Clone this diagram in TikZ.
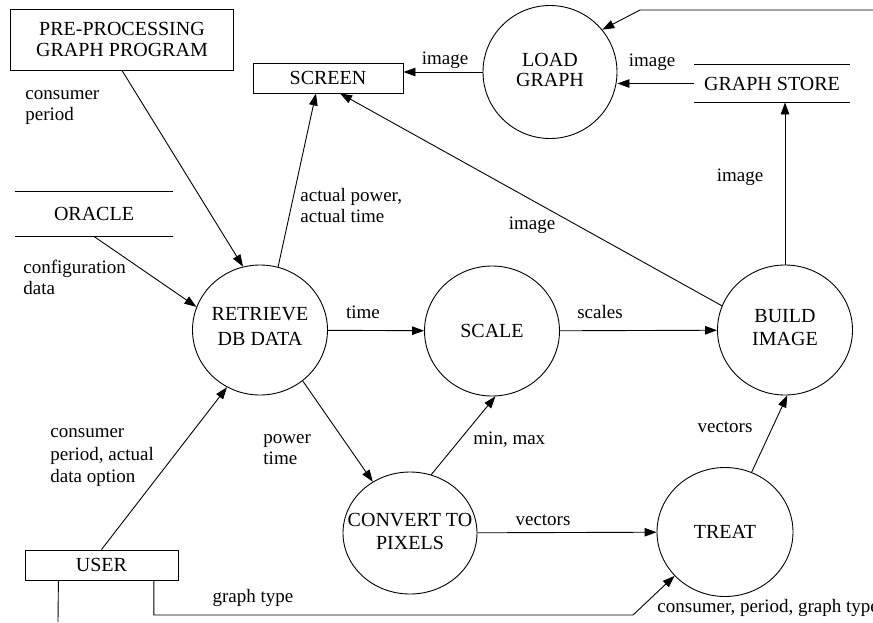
\documentclass[tikz,border=0pt]{standalone}
\usepackage{fontspec}
\setmainfont{Liberation Serif}
\usetikzlibrary{arrows.meta,shapes.geometric,calc}
\begin{document}
\begin{tikzpicture}[x=1pt,y=-1pt,
  line width=0.9pt,
  nodefont/.style={font=\fontsize{20}{21}\selectfont},
  box/.style={draw, rectangle, inner sep=0pt, align=center, nodefont},
  store/.style={rectangle, inner sep=0pt, align=center, nodefont},
  proc/.style={draw, ellipse, inner sep=0pt, minimum width=135pt, minimum height=130pt},
  ptext/.style={align=center, inner sep=0pt},
  lab/.style={inner sep=0pt, font=\fontsize{19}{21}\selectfont},
  flow/.style={-{Triangle[length=12pt,width=8.5pt]}},
]
\useasboundingbox (0,0) rectangle (873,622);

% terminators and stores
\node[box, minimum width=223pt, minimum height=61pt] (pre) at (122,39.5) {PRE-PROCESSING\\GRAPH PROGRAM};
\node[box, minimum width=150pt, minimum height=30pt] (screen) at (328,78) {SCREEN};
\node[box, minimum width=153pt, minimum height=30pt] (user) at (101.5,565) {USER};
\node[store, minimum width=155pt, minimum height=37pt] (gstore) at (772,83.5) {GRAPH STORE};
\node[store, minimum width=158pt, minimum height=44pt] (oracle) at (94,214) {ORACLE};
\draw (gstore.north west) -- (gstore.north east);
\draw (gstore.south west) -- (gstore.south east);
\draw (oracle.north west) -- (oracle.north east);
\draw (oracle.south west) -- (oracle.south east);

% processes
\node[proc, minimum width=134pt, minimum height=133pt,
  label={[ptext,font=\fontsize{20}{19.5}\selectfont,yshift=2pt]center:{LOAD\\GRAPH}}] (load) at (550,72) {};
\node[proc,
  label={[ptext,font=\fontsize{20}{25}\selectfont,yshift=4pt]center:{RETRIEVE\\DB DATA}}] (retrieve) at (260,330) {};
\node[proc, label={[ptext,nodefont]center:{SCALE}}] (scale) at (492,331) {};
\node[proc,
  label={[ptext,font=\fontsize{20}{23}\selectfont,yshift=2pt]center:{BUILD\\IMAGE}}] (build) at (785,330) {};
\node[proc, minimum width=134pt, minimum height=122pt,
  label={[ptext,font=\fontsize{20}{23}\selectfont,yshift=2pt]center:{CONVERT TO\\PIXELS}}] (convert) at (410,533) {};
\node[proc, minimum width=136pt, minimum height=129pt,
  label={[ptext,nodefont]center:{TREAT}}] (treat) at (725,532) {};

% free ends and bends
\coordinate (inR) at (873,10);
\coordinate (inB) at (640,10);
\coordinate (ubot) at (58,622);
\coordinate (gA) at (154,615);
\coordinate (gB) at (633,615);

% flows
\draw[flow] (pre.south) -- (retrieve.105);
\draw[flow] (oracle.south) -- (retrieve.160);
\draw[flow] (user.north) -- (retrieve.240);
\draw[flow] (retrieve.74) -- ($(screen.south west)!0.42!(screen.south east)$);
\draw[flow] (build.159) -- ($(screen.south west)!0.58!(screen.south east)$);
\draw[flow] (load.west) -- (load.west -| screen.east);
\draw[flow] (gstore.west) -- (gstore.west -| load.east);
\draw[flow] (inR) -- (inB) -- (load.39);
\draw[flow] (build.north) -- (build.north |- gstore.south);
\draw[flow] (retrieve) -- (scale);
\draw[flow] (scale) -- (build);
\draw[flow] (retrieve.-50) -- (convert.126);
\draw[flow] (convert.70) -- (scale.-87);
\draw[flow] (convert) -- (treat);
\draw[flow] (treat.66) -- (build.-88);
\draw[flow] ($(user.south west)!0.84!(user.south east)$) |- (gA) -- (gB) -- (treat.221);
\draw ($(user.south west)!0.22!(user.south east)$) -- (ubot);

% labels
\node[lab, anchor=west, align=left] (lcp) at (25,107.5) {consumer\\period};
\node[lab, anchor=west, align=left] (lcfg) at (23,277.5) {configuration\\data};
\node[lab, anchor=west, align=left, font=\fontsize{19}{22.5}\selectfont] (lusr) at (50,458) {consumer\\period, actual\\data option};
\node[lab, anchor=west, align=left] (lact) at (300,205) {actual power,\\actual time};
\node[lab] (limg1) at (532,225) {image};
\node[lab] (limg2) at (445,60) {image};
\node[lab] (limg3) at (652,62) {image};
\node[lab] (limg4) at (740,177) {image};
\node[lab] (ltime) at (363,312) {time};
\node[lab] (lscales) at (600,312) {scales};
\node[lab, anchor=west, align=left] (lpow) at (263,450) {power\\time};
\node[lab, anchor=west] (lmm) at (473,440) {min, max};
\node[lab] (lvec1) at (543,520) {vectors};
\node[lab] (lvec2) at (725,427) {vectors};
\node[lab] (lgt) at (253,598) {graph type};
\node[lab, anchor=west] (lcpg) at (657,608) {consumer, period, graph type};
\end{tikzpicture}
\end{document}
